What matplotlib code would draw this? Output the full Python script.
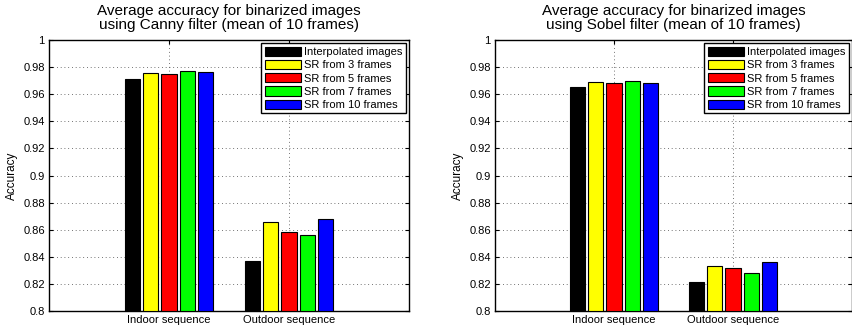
import numpy as np
import matplotlib
matplotlib.use("Agg")
import matplotlib.pyplot as plt

plt.rcParams['font.family'] = ['Liberation Sans', 'DejaVu Sans']

# data
groups = ['Indoor sequence', 'Outdoor sequence']
series = ['Interpolated images', 'SR from 3 frames', 'SR from 5 frames',
          'SR from 7 frames', 'SR from 10 frames']
colors = ['#000000', '#ffff00', '#ff0000', '#00ff00', '#0000ff']

canny_indoor = [0.971, 0.9756, 0.9749, 0.9769, 0.9762]
canny_outdoor = [0.837, 0.866, 0.858, 0.856, 0.868]
sobel_indoor = [0.965, 0.969, 0.968, 0.9695, 0.968]
sobel_outdoor = [0.8216, 0.833, 0.8315, 0.828, 0.836]

titles = ['Average accuracy for binarized images\nusing Canny filter (mean of 10 frames)',
          'Average accuracy for binarized images\nusing Sobel filter (mean of 10 frames)']

W, H = 853, 333
fig = plt.figure(figsize=(W / 100, H / 100), dpi=100)


def draw_panel(ax, indoor, outdoor, title):
    x = np.arange(1, len(groups) + 1)
    n = len(series)
    gw = min(0.8, n / (n + 1.5))
    bw = 0.82 * gw / n
    for i, name in enumerate(series):
        off = -gw / 2 + (2 * i + 1) * gw / (2 * n)
        vals = [indoor[i], outdoor[i]]
        ax.bar(x + off, np.array(vals) - 0.8, bottom=0.8, width=bw,
               color=colors[i], edgecolor='black', linewidth=0.8,
               label=name, zorder=3)
    ax.set_xlim(0, 3)
    ax.set_ylim(0.8, 1.0)
    ax.set_xticks(x)
    ax.set_xticklabels(groups)
    yt = np.round(np.arange(0.8, 1.0001, 0.02), 2)
    ax.set_yticks(yt)
    ax.set_yticklabels(['0.8'] + [f'{v:g}' for v in yt[1:-1]] + ['1'])
    ax.tick_params(direction='in', top=True, right=True, labelsize=8,
                   length=3, width=0.8, pad=3)
    ax.grid(True, linestyle=(0, (1, 3.5)), color='#444444', linewidth=0.6, zorder=0)
    for s in ax.spines.values():
        s.set_linewidth(1.0)
    ax.set_ylabel('Accuracy', fontsize=8.5, labelpad=4)
    ax.set_title(title, fontsize=11, pad=8, linespacing=1.0)
    leg = ax.legend(loc='upper right', fontsize=8, handlelength=3.3,
                    handleheight=0.9, labelspacing=0.25, borderaxespad=0.3,
                    borderpad=0.3, handletextpad=0.25, fancybox=False,
                    framealpha=1, edgecolor='black')
    leg.get_frame().set_linewidth(1.0)
    leg.set_zorder(5)


ax1 = fig.add_axes([49 / W, (H - 311) / H, 360 / W, 271 / H])
ax2 = fig.add_axes([495 / W, (H - 311) / H, 357 / W, 271 / H])
draw_panel(ax1, canny_indoor, canny_outdoor, titles[0])
draw_panel(ax2, sobel_indoor, sobel_outdoor, titles[1])

fig.savefig('out.png', dpi=100)
